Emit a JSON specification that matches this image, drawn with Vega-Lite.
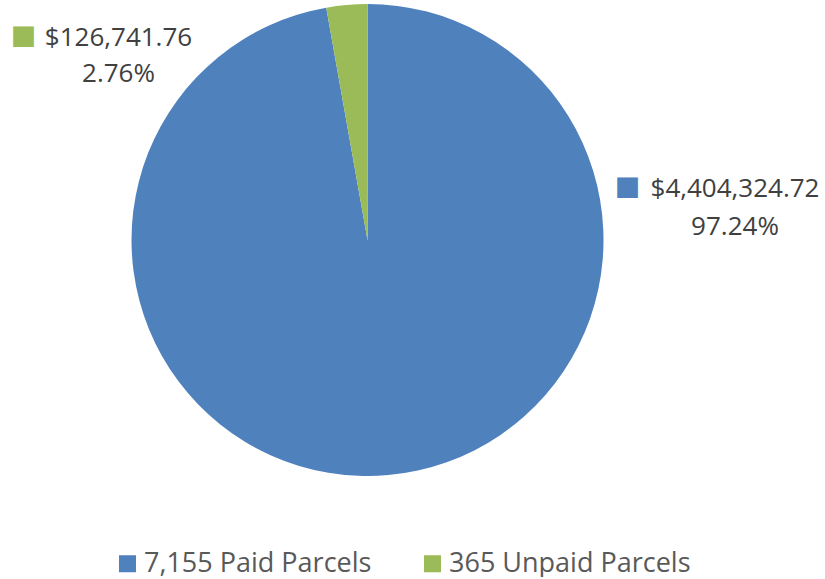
{
  "$schema": "https://vega.github.io/schema/vega-lite/v6.json",
  "width": 735,
  "height": 480,
  "padding": 0,
  "autosize": {"type": "pad"},
  "background": "white",
  "config": {"view": {"stroke": null}, "font": "Open Sans"},
  "data": {"values": [
    {"category": "7,155 Paid Parcels", "amount": 4404324.72, "pct": "97.24%", "idx": 1},
    {"category": "365 Unpaid Parcels", "amount": 126741.76, "pct": "2.76%", "idx": 2}
  ]},
  "layer": [
    {
      "mark": {"type": "arc", "outerRadius": 236},
      "encoding": {
        "theta": {"field": "amount", "type": "quantitative", "stack": true},
        "order": {"field": "idx", "type": "quantitative"},
        "color": {
          "field": "category", "type": "nominal",
          "scale": {"domain": ["7,155 Paid Parcels", "365 Unpaid Parcels"], "range": ["#4F81BD", "#9BBB59"]},
          "legend": {
            "title": null, "orient": "none", "legendX": 114, "legendY": 550, "padding": 0,
            "direction": "horizontal", "symbolType": "square", "symbolSize": 289,
            "symbolStrokeWidth": 0, "labelFontSize": 27, "labelFont": "Open Sans",
            "labelColor": "#595959", "labelOffset": 3, "columnPadding": 47, "labelLimit": 400
          }
        }
      }
    },
    {
      "transform": [{"filter": "datum.idx == 2"}],
      "mark": {"type": "text", "fontSize": 26, "color": "#404040", "align": "center", "baseline": "alphabetic", "dx": -249, "dy": -194},
      "encoding": {"text": {"field": "amount", "type": "quantitative", "format": "$,.2f"}}
    },
    {
      "transform": [{"filter": "datum.idx == 2"}],
      "mark": {"type": "text", "fontSize": 26, "color": "#404040", "align": "center", "baseline": "alphabetic", "dx": -249, "dy": -158},
      "encoding": {"text": {"field": "pct", "type": "nominal"}}
    },
    {
      "transform": [{"filter": "datum.idx == 1"}],
      "mark": {"type": "text", "fontSize": 26, "color": "#404040", "align": "center", "baseline": "alphabetic", "dx": 367.5, "dy": -43},
      "encoding": {"text": {"field": "amount", "type": "quantitative", "format": "$,.2f"}}
    },
    {
      "transform": [{"filter": "datum.idx == 1"}],
      "mark": {"type": "text", "fontSize": 26, "color": "#404040", "align": "center", "baseline": "alphabetic", "dx": 367.5, "dy": -5},
      "encoding": {"text": {"field": "pct", "type": "nominal"}}
    },
    {
      "transform": [{"filter": "datum.idx == 2"}],
      "mark": {"type": "text", "font": "DejaVu Sans", "fontSize": 27, "align": "center", "baseline": "middle", "dx": -344, "dy": -204, "text": "■"},
      "encoding": {"color": {"field": "category", "type": "nominal", "legend": null}}
    },
    {
      "transform": [{"filter": "datum.idx == 1"}],
      "mark": {"type": "text", "font": "DejaVu Sans", "fontSize": 27, "align": "center", "baseline": "middle", "dx": 260, "dy": -53, "text": "■"},
      "encoding": {"color": {"field": "category", "type": "nominal", "legend": null}}
    }
  ]
}
